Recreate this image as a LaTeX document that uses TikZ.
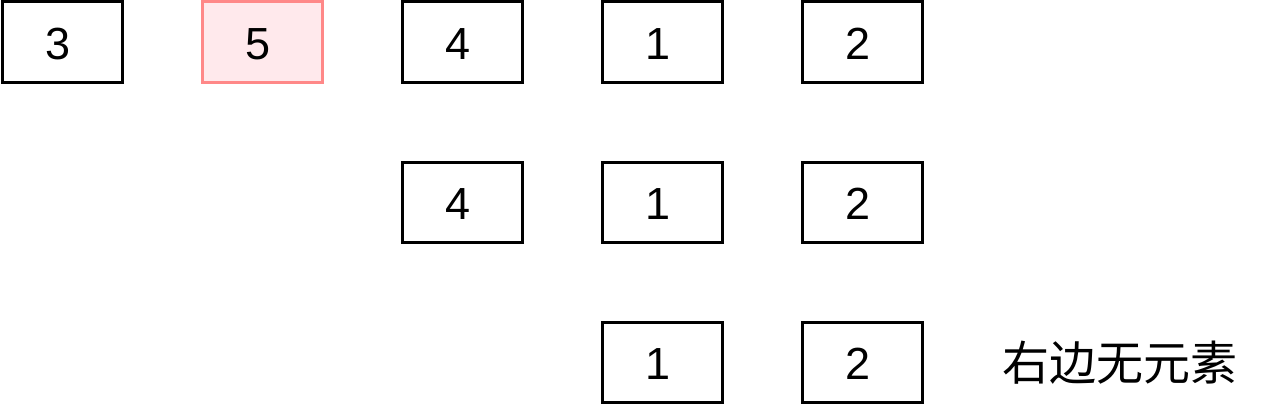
\documentclass[tikz,border=0pt]{standalone}
\usepackage{fontspec}
\setmainfont{Liberation Sans}
\newfontfamily\cjk{Noto Sans CJK SC}
\definecolor{hotdraw}{HTML}{FF8888}
\definecolor{hotfill}{HTML}{FFE9EC}
\begin{document}
\begin{tikzpicture}[x=1pt,y=-1pt,
  cell/.style={draw=black,line width=3pt,fill=white,minimum width=120pt,minimum height=80pt,inner sep=0pt,font=\fontsize{45}{48}\selectfont},
  hot/.style={cell,draw=hotdraw,fill=hotfill},
  lbl/.style={inner sep=0pt,font=\fontsize{45}{48}\selectfont}]
\useasboundingbox (0,0) rectangle (1284,404);
\foreach \n/\x/\y/\t/\s in {a3/62/42/3/cell,a5/262/42/5/hot,a4/462/42/4/cell,a1/662/42/1/cell,a2/862/42/2/cell,b4/462/202/4/cell,b1/662/202/1/cell,b2/862/202/2/cell,c1/662/362/1/cell,c2/862/362/2/cell}{
  \node[\s] (\n) at (\x,\y) {};
  \node[lbl] (\n t) at ([xshift=-4pt,yshift=-2pt]\n.center) {\t};
}
\node[font=\cjk\fontsize{47}{50}\selectfont,inner sep=0pt] (t) at (1120,363) {右边无元素};
\end{tikzpicture}
\end{document}
